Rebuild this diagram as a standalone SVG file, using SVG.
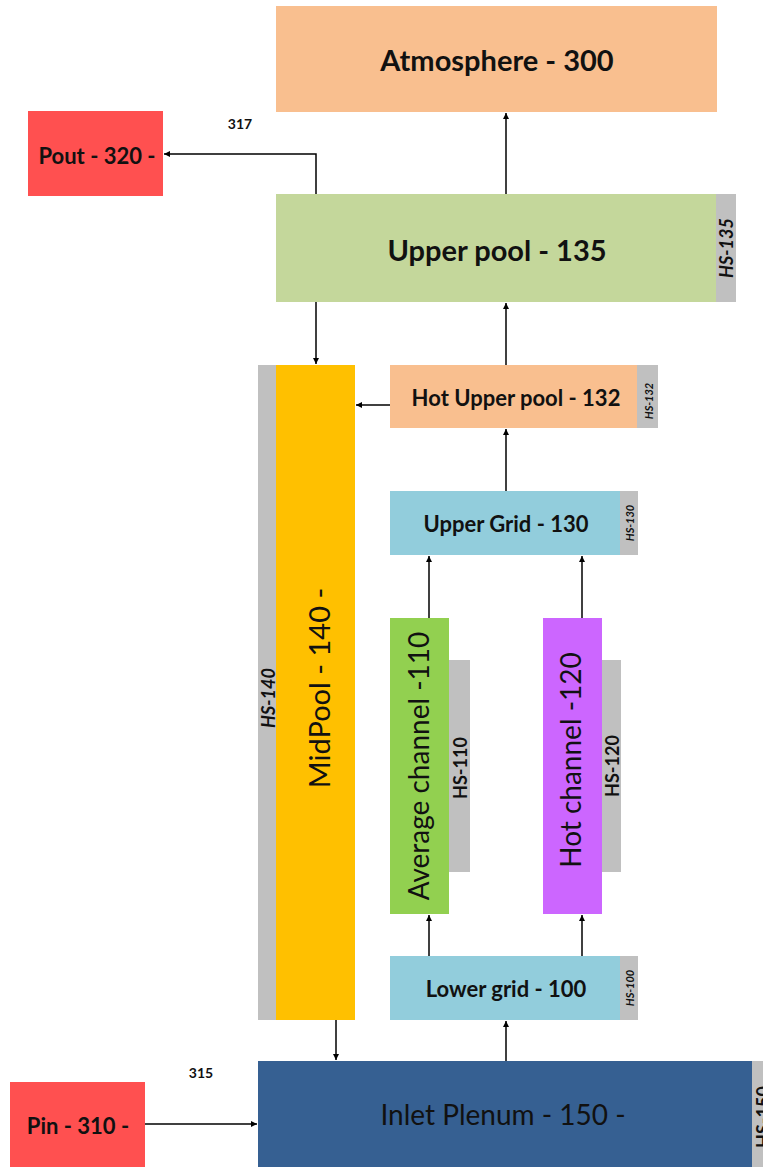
<svg xmlns="http://www.w3.org/2000/svg" width="763" height="1167" viewBox="0 0 763 1167">
<defs>
<marker id="ah" markerWidth="8" markerHeight="8" refX="6" refY="3.5" orient="auto" markerUnits="userSpaceOnUse">
<path d="M0,0.5 L6,3.5 L0,6.5 Z" fill="#000"/>
</marker>
<style>
text{font-family:Lato,"Open Sans","Liberation Sans",sans-serif;fill:#111;text-anchor:middle;dominant-baseline:central}
.b{font-weight:bold}
.big{font-size:29px}
.mid{font-size:22px}
.v{font-size:28px}
.hs{font-size:11px;font-weight:bold;font-style:italic}
.hsl{font-size:18px;font-weight:bold;font-style:italic}
.hsm{font-size:18px;font-weight:bold}
.gray{fill:#C0C0C0}
.red{fill:#FF5050}
.peach{fill:#F9BF8F}
.blue{fill:#92CDDC}
.lbl{font-size:14px;font-weight:bold}
.conn{stroke:#000;stroke-width:1.5;fill:none}
</style>
</defs>
<rect width="763" height="1167" fill="#fff"/>
<g id="atmosphere">
<rect x="276" y="6" width="441" height="106" class="peach"/>
<text x="497" y="59" class="b big">Atmosphere - 300</text>
</g>
<g id="pout">
<rect x="28" y="111" width="135" height="85" class="red"/>
<text x="97" y="155" class="b mid">Pout - 320 -</text>
</g>
<text x="240" y="123" class="lbl">317</text>
<g id="upperpool">
<rect x="276" y="194" width="440" height="108" fill="#C4D79B"/>
<rect x="716" y="194" width="20" height="108" class="gray"/>
<text x="497" y="249" class="b big">Upper pool - 135</text>
<text transform="translate(726,248) rotate(-90)" class="hsl">HS-135</text>
</g>
<g id="midpool">
<rect x="258" y="365" width="18" height="655" class="gray"/>
<rect x="276" y="365" width="79" height="655" fill="#FFC000"/>
<text transform="translate(318,688) rotate(-90)" style="font-size:29px">MidPool - 140 -</text>
<text transform="translate(268,698) rotate(-90)" class="hsl">HS-140</text>
</g>
<g id="hotupperpool">
<rect x="390" y="365" width="247" height="63" class="peach"/>
<rect x="637" y="365" width="21" height="63" class="gray"/>
<text x="516" y="397" class="b mid">Hot Upper pool - 132</text>
<text transform="translate(648,401) rotate(-90)" class="hs">HS-132</text>
</g>
<g id="uppergrid">
<rect x="390" y="491" width="230" height="64" class="blue"/>
<rect x="620" y="491" width="18" height="64" class="gray"/>
<text x="506" y="523" class="b mid">Upper Grid - 130</text>
<text transform="translate(629,523) rotate(-90)" class="hs">HS-130</text>
</g>
<g id="avgchannel">
<rect x="390" y="618" width="59" height="296" fill="#92D050"/>
<rect x="449" y="660" width="21" height="212" class="gray"/>
<text transform="translate(418,766) rotate(-90)" class="v">Average channel -110</text>
<text transform="translate(460,768) rotate(-90)" class="hsm">HS-110</text>
</g>
<g id="hotchannel">
<rect x="543" y="618" width="59" height="296" fill="#CC66FF"/>
<rect x="602" y="660" width="19" height="212" class="gray"/>
<text transform="translate(570,760) rotate(-90)" class="v">Hot channel -120</text>
<text transform="translate(612,766) rotate(-90)" class="hsm">HS-120</text>
</g>
<g id="lowergrid">
<rect x="390" y="956" width="230" height="64" class="blue"/>
<rect x="620" y="956" width="18" height="64" class="gray"/>
<text x="506" y="988" class="b mid">Lower grid - 100</text>
<text transform="translate(629,988) rotate(-90)" class="hs">HS-100</text>
</g>
<g id="inletplenum">
<rect x="258" y="1061" width="494" height="106" fill="#366092"/>
<rect x="752" y="1061" width="11" height="106" class="gray"/>
<text x="503" y="1114" class="v">Inlet Plenum - 150 -</text>
<text transform="translate(763,1117) rotate(-90)" class="hsm">HS-150</text>
</g>
<g id="pin">
<rect x="10" y="1082" width="135" height="85" class="red"/>
<text x="78" y="1125" class="b mid">Pin - 310 -</text>
</g>
<text x="201" y="1072" class="lbl">315</text>
<g id="connectors">
<path class="conn" d="M506,194 V113" marker-end="url(#ah)"/>
<path class="conn" d="M316,194 V154 H164" marker-end="url(#ah)"/>
<path class="conn" d="M316,302 V364" marker-end="url(#ah)"/>
<path class="conn" d="M506,365 V303" marker-end="url(#ah)"/>
<path class="conn" d="M390,405 H356" marker-end="url(#ah)"/>
<path class="conn" d="M506,491 V429" marker-end="url(#ah)"/>
<path class="conn" d="M429,618 V556" marker-end="url(#ah)"/>
<path class="conn" d="M582,618 V556" marker-end="url(#ah)"/>
<path class="conn" d="M429,956 V915" marker-end="url(#ah)"/>
<path class="conn" d="M582,956 V915" marker-end="url(#ah)"/>
<path class="conn" d="M506,1061 V1021" marker-end="url(#ah)"/>
<path class="conn" d="M336,1020 V1060" marker-end="url(#ah)"/>
<path class="conn" d="M145,1124 H257" marker-end="url(#ah)"/>
</g>
</svg>
